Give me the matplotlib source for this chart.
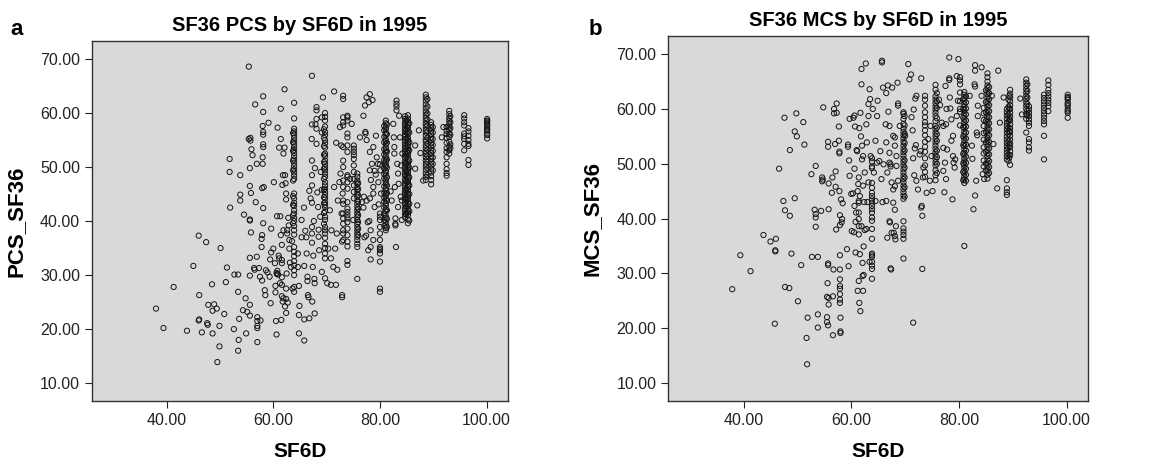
import matplotlib
matplotlib.use("Agg")
import matplotlib.pyplot as plt
import numpy as np

# ---- panel a: PCS_SF36 vs SF6D (scattered points, x/y pairs) ----
pcs_pts = [
    (38.0, 23.8), (39.4, 20.2), (41.3, 27.8), (43.8, 19.7), (45.0, 31.7), (46.0, 37.3),
    (46.1, 26.3), (46.1, 21.8), (46.0, 21.6), (46.6, 19.4), (47.4, 36.1), (47.6, 21.1),
    (47.7, 20.8), (47.8, 24.5), (48.5, 28.3), (48.6, 23.4), (48.6, 19.2), (48.9, 24.6),
    (49.4, 23.8), (49.5, 13.9), (49.9, 16.8), (49.9, 20.6), (50.1, 35.0), (50.8, 22.8),
    (51.1, 28.7), (51.3, 31.4), (51.8, 49.1), (51.8, 51.5), (51.9, 42.5), (52.6, 20.0),
    (52.7, 30.1), (53.4, 30.1), (53.4, 26.9), (53.4, 16.0), (53.5, 18.0), (53.6, 21.9),
    (53.8, 48.5), (53.8, 44.9), (53.8, 43.8), (54.3, 23.5), (54.5, 41.2), (54.8, 25.7),
    (54.9, 19.2), (55.1, 23.2), (55.4, 55.2), (55.4, 68.6), (55.6, 49.8), (55.6, 46.5),
    (55.6, 40.3), (55.6, 40.1), (55.6, 33.2), (55.6, 29.9), (55.6, 24.5), (55.6, 22.5),
    (55.7, 55.4), (55.7, 54.9), (55.8, 45.2), (55.8, 37.9), (55.9, 53.3), (56.1, 52.2),
    (56.4, 31.3), (56.5, 31.0), (56.7, 43.5), (56.6, 61.6), (56.9, 50.6), (56.9, 33.4),
    (57.0, 22.2), (57.0, 21.5), (57.0, 20.6), (57.0, 20.2), (57.0, 17.6), (57.3, 31.3),
    (57.5, 29.7), (57.6, 21.6), (57.8, 36.7), (57.8, 35.2), (57.9, 29.0), (57.9, 37.4),
    (57.9, 46.1), (58.0, 57.6), (58.0, 51.8), (58.0, 50.6), (58.1, 56.5), (58.1, 56.0),
    (58.1, 63.1), (58.1, 60.2), (58.1, 54.2), (58.1, 53.7), (58.1, 42.4), (58.1, 39.6),
    (58.2, 46.3), (58.4, 27.2), (58.5, 26.3), (58.6, 30.9), (58.9, 30.5), (59.1, 58.2),
    (59.3, 29.7), (59.4, 32.9), (59.5, 24.8), (59.6, 38.6), (59.6, 34.2), (60.0, 34.9),
    (60.1, 47.2), (60.4, 26.8), (60.4, 28.0), (60.5, 21.5), (60.6, 19.0), (60.6, 30.4),
    (60.7, 30.2), (60.7, 40.9), (60.8, 57.3), (61.0, 33.6), (61.1, 53.6), (61.3, 40.9),
    (61.4, 60.8), (61.4, 55.2), (61.5, 21.7), (61.6, 35.6), (61.6, 32.8), (61.6, 32.2),
    (61.6, 29.6), (61.6, 28.2), (61.6, 26.1), (61.7, 46.7), (61.8, 48.5), (61.9, 52.5),
    (62.1, 53.6), (62.1, 64.4), (62.2, 48.5), (62.3, 47.0), (62.4, 44.0), (62.4, 45.1),
    (62.4, 27.5), (62.4, 25.6), (62.7, 24.9), (62.8, 40.6), (63.0, 36.5), (63.1, 32.3),
    (60.3, 32.2), (60.9, 30.1), (61.25, 28.5), (61.75, 25.1), (61.9, 25.7), (62.2, 24.2),
    (62.4, 23.0), (62.5, 30.3), (62.6, 37.7), (62.6, 38.3), (62.9, 39.2), (63.0, 34.9),
    (61.9, 38.3), (61.4, 37.4), (61.1, 33.1), (60.75, 30.8),
    (63.5, 36.3), (63.3, 31.5), (63.6, 27.5), (64.6, 34.0), (64.6, 31.5), (64.8, 28.0),
    (64.9, 24.3), (64.8, 22.6), (64.8, 19.2), (65.3, 40.2), (65.3, 37.0), (65.75, 42.5),
    (65.8, 31.7), (65.8, 21.8), (65.8, 17.9), (66.0, 38.2), (66.2, 37.0), (66.25, 34.0),
    (66.4, 29.7), (66.4, 28.9), (66.5, 26.3), (66.6, 25.9), (66.75, 45.6), (66.75, 22.0),
    (67.0, 44.2), (67.2, 55.2), (67.25, 66.9), (67.25, 57.9), (67.25, 51.2), (67.25, 48.5),
    (67.25, 46.6), (67.25, 43.4), (67.25, 38.9), (67.25, 37.7), (67.25, 36.0), (67.3, 25.1),
    (67.4, 31.5), (67.5, 33.6), (67.6, 40.0), (67.7, 29.3), (67.75, 28.5), (67.75, 22.9),
    (67.8, 49.8), (67.9, 57.9), (68.1, 61.1), (68.1, 60.5), (68.1, 58.9), (68.1, 57.1),
    (68.1, 54.3), (68.25, 45.3), (68.4, 42.6), (68.5, 38.4), (68.5, 37.1), (68.6, 34.6),
    (68.8, 40.8), (68.9, 49.1), (69.1, 45.8), (69.1, 30.6), (69.3, 62.9), (69.1, 59.2),
    (69.1, 56.4),
    (70.1, 28.5), (70.3, 34.9), (70.6, 42.0), (70.8, 28.2), (70.8, 33.1), (70.9, 38.3),
    (71.25, 31.5), (71.4, 64.0), (71.4, 46.3), (71.6, 34.9), (71.75, 28.2), (71.8, 54.5),
    (71.9, 37.7), (72.0, 31.0), (72.1, 43.8), (72.4, 47.2), (72.5, 57.4), (72.6, 48.8),
    (72.75, 54.0), (72.8, 41.4), (72.9, 26.3), (72.9, 25.9), (72.9, 36.2), (73.0, 45.1),
    (74.4, 47.8), (74.7, 58.0), (75.0, 40.2), (76.25, 55.5), (76.6, 43.5), (76.9, 59.5),
    (77.2, 61.4), (77.25, 56.5), (77.3, 56.2), (77.4, 37.3), (77.5, 62.9), (77.5, 55.0),
    (77.5, 43.8), (77.7, 39.8), (77.8, 34.6), (77.9, 62.0), (78.1, 63.5), (78.1, 52.8),
    (78.1, 49.4), (78.1, 44.2), (78.25, 38.3), (78.25, 35.2), (78.25, 32.9), (78.6, 62.4),
    (78.75, 53.7), (78.75, 46.3), (78.75, 45.1), (78.75, 36.5), (79.0, 42.6), (79.25, 55.8),
    (79.4, 51.8), (79.6, 50.6), (79.7, 47.2), (79.75, 43.1), (79.0, 49.3), (79.2, 48.6),
    (78.5, 50.6), (78.3, 47.6), (77.0, 44.5), (76.9, 42.5), (77.1, 37.0), (78.0, 40.0),
    (80.2, 45.1), (80.1, 49.4), (80.0, 50.5),
    (82.5, 58.0), (82.6, 55.5), (82.7, 53.7), (82.7, 52.5), (82.8, 46.3), (82.9, 40.5),
    (82.9, 39.5), (82.9, 39.2), (83.0, 35.2), (83.25, 50.6), (83.4, 48.8), (83.4, 42.6),
    (83.6, 59.5), (83.75, 55.5), (83.9, 44.5), (84.1, 43.8), (84.1, 40.2), (82.2, 43.8),
    (82.0, 45.5), (83.5, 46.9), (84.0, 50.3), (84.2, 52.5),
    (86.6, 54.0), (86.6, 49.7), (87.0, 42.9), (87.3, 56.8), (87.6, 52.6), (88.1, 47.5),
    (91.6, 55.5), (91.9, 57.4),
]

# vertical stacks of points sharing one SF6D value
pcs_cols = {
    63.9: [61.9, 59.0, 57.1, 56.6, 56.0, 55.4, 54.9, 54.3, 53.7, 53.2, 52.6, 52.0, 51.4,
           50.8, 50.2, 49.6, 49.0, 48.4, 47.8, 45.1, 44.2, 43.4, 42.8, 42.0, 41.4, 40.6,
           40.0, 39.1, 38.3, 37.5, 35.2, 34.3, 33.5, 32.6, 31.8, 30.9, 30.0, 27.8, 26.9],
    63.7: [56.3, 54.6, 53.0, 51.2, 49.4, 47.5, 44.6, 43.0, 41.1, 39.6],
    69.7: [60.0, 59.3, 58.6, 57.5, 56.5, 55.9, 55.0, 54.4, 53.6, 52.5, 52.0, 51.2, 50.6,
           50.0, 49.4, 48.8, 48.2, 47.2, 46.6, 46.0, 45.4, 44.8, 44.2, 43.5, 43.0, 42.6,
           41.8, 40.8, 40.2, 38.9, 38.3, 37.7, 36.9, 35.8, 35.0, 34.0, 33.1, 29.4],
    69.5: [57.0, 55.4, 53.9, 52.3, 50.9, 49.7, 47.8, 45.8, 44.4, 43.3, 41.5, 39.5],
    73.1: [63.2, 62.6, 59.2, 58.3, 57.7, 53.7, 51.2, 50.0, 47.5, 46.3, 43.8, 43.2, 41.4,
           40.5, 39.5, 38.3, 37.7, 36.5],
    73.9: [59.5, 59.2, 58.6, 56.2, 55.5, 54.0, 52.8, 48.5, 48.2, 47.2, 46.0, 43.5, 42.3,
           41.7, 41.1, 40.5, 39.8, 38.6, 37.4, 36.2, 35.3, 32.6, 31.9],
    75.1: [54.0, 53.4, 52.8, 52.2, 51.5, 50.3, 49.1, 47.8, 46.6, 45.4, 44.2],
    75.75: [48.8, 48.2, 47.5, 46.9, 46.3, 45.7, 45.1, 44.5, 43.8, 43.2, 42.6, 42.0, 41.4,
            40.8, 40.2, 39.5, 38.9, 38.3, 37.7, 37.1, 36.5, 35.8, 35.2, 29.3],
    75.9: [47.0, 45.9, 44.8, 43.6, 42.3, 41.1, 39.8, 38.6, 37.4],
    80.0: [41.4, 40.8, 40.2, 38.9, 37.7, 36.5, 35.2, 34.9, 34.6, 34.0, 32.5, 27.5, 26.9],
    81.1: [58.6, 58.1, 57.4, 57.0, 56.3, 55.9, 55.1, 54.8, 54.2, 53.6, 53.1, 52.7, 52.0,
           51.6, 51.0, 50.4, 50.1, 49.3, 48.9, 48.4, 47.7, 47.2, 46.8, 46.1, 45.7, 45.0,
           44.6, 44.0, 43.3, 42.9, 42.2, 41.8, 41.0, 40.6, 39.9, 39.3, 38.7, 38.3],
    80.8: [57.6, 56.8, 55.6, 54.6, 53.3, 52.3, 51.3, 50.7, 49.7, 48.7, 47.9, 46.4, 45.3,
           44.3, 43.6, 42.5, 41.4, 40.2, 39.1],
    81.3: [57.9, 56.1, 54.5, 52.9, 51.4, 49.9, 48.1, 46.6, 45.2, 43.8, 42.0, 40.4, 38.9],
    83.1: [62.3, 61.7, 61.2, 60.5],
    84.7: [59.4, 58.9, 58.2, 57.7, 57.1, 56.6, 56.0, 55.6, 55.0, 54.4, 53.9, 53.3, 52.8,
           52.1, 51.7, 51.0, 50.5, 49.9, 49.4, 48.7, 48.3, 47.6, 47.0, 46.5, 45.9, 45.3,
           44.8, 44.2, 43.6, 43.1, 42.4, 41.9, 41.3, 40.7],
    84.9: [58.5, 56.9, 55.3, 53.6, 52.4, 50.8, 49.1, 47.4, 45.6, 44.1, 42.7, 41.2],
    85.0: [58.7, 57.5, 56.4, 55.2, 54.1, 53.0, 51.9, 50.7, 49.5, 48.3, 47.2, 46.0, 44.9,
           43.8, 42.6, 41.5],
    85.25: [59.6, 59.0, 58.4, 57.8, 57.3, 56.7, 56.1, 55.4, 54.9, 54.3, 53.8, 53.2, 52.6,
            52.1, 51.5, 50.9, 50.3, 49.7, 49.2, 48.6, 48.0, 47.4, 46.9, 46.3, 45.7, 45.1,
            44.5, 44.0, 43.4, 42.8, 42.2, 41.6, 41.1, 40.3, 39.6],
    85.5: [58.1, 56.4, 54.6, 53.1, 51.2, 49.9, 48.1, 46.6, 45.0, 43.2, 41.8, 40.1],
    88.6: [63.4, 62.9, 62.3, 61.6, 60.9, 60.3, 59.7, 59.1, 58.6, 58.0, 57.5, 56.9, 56.4,
           55.8, 55.1, 54.7, 54.0, 53.5, 52.9, 52.4, 51.8, 51.2, 50.6, 50.1, 49.5, 48.8,
           48.2, 47.6],
    88.9: [62.6, 61.2, 59.9, 58.8, 57.7, 56.6, 55.4, 54.3, 53.2, 52.1, 51.0, 49.8, 48.5],
    89.6: [58.3, 57.8, 57.2, 56.7, 56.1, 55.5, 55.0, 54.4, 53.8, 53.2, 52.6, 52.0, 51.5,
           50.9, 50.3, 49.7, 49.0, 48.3, 47.6, 46.8],
    89.9: [57.4, 56.4, 55.2, 54.1, 53.0, 51.8, 50.6, 49.4],
    92.5: [57.4, 56.7, 56.1, 55.4, 54.5, 53.5, 52.8, 51.8, 50.6, 49.6, 48.9, 48.4],
    93.0: [60.4, 59.8, 59.1, 58.6, 58.0, 57.5, 56.9, 56.2, 55.6, 54.7, 53.8, 53.1, 52.5],
    93.2: [59.4, 58.3, 57.2, 56.0, 54.2, 53.5],
    95.8: [59.6, 59.0, 58.3, 57.7, 56.2, 55.7, 55.2, 54.3, 53.1],
    96.6: [57.2, 56.6, 55.8, 55.0, 54.3, 53.9, 51.3, 50.4],
    100.1: [58.9, 58.6, 58.2, 57.9, 57.5, 57.1, 56.6, 56.2, 55.9, 55.3, 58.4, 57.7, 56.9],
}

# ---- panel b: MCS_SF36 vs SF6D ----
mcs_pts = [
    (37.9, 27.1), (39.4, 33.3), (41.3, 30.4), (43.7, 37.0), (45.0, 35.8), (45.8, 20.8),
    (45.9, 34.2), (45.9, 34.0), (46.0, 36.3), (46.6, 49.1), (47.6, 58.4), (47.4, 43.2),
    (47.7, 41.5), (47.7, 27.5), (48.5, 27.3), (48.6, 40.5), (48.6, 52.5), (48.9, 33.6),
    (49.5, 55.9), (49.5, 43.7), (49.8, 59.2), (49.9, 55.0), (50.1, 24.9), (50.7, 31.5),
    (51.1, 57.6), (51.3, 53.5), (51.7, 18.2), (51.9, 21.9), (51.8, 13.4), (52.6, 48.1),
    (52.7, 33.0), (53.2, 41.6), (53.4, 40.8), (53.4, 40.2), (53.4, 38.5), (53.4, 49.6),
    (53.8, 33.0), (53.8, 22.5), (53.8, 20.1), (54.4, 41.4), (54.6, 47.5), (54.7, 47.1),
    (54.6, 46.8), (54.8, 60.3), (55.5, 22.0), (55.5, 21.1), (55.5, 25.7), (55.8, 25.5),
    (55.6, 28.2), (55.7, 20.5), (55.7, 31.8), (55.7, 31.5), (55.7, 54.0), (55.7, 53.1),
    (55.8, 46.4), (55.8, 41.7), (55.8, 24.3), (56.4, 44.7), (56.5, 47.5), (56.6, 25.8),
    (56.6, 18.7), (56.7, 30.7), (56.8, 60.0), (56.8, 59.2), (57.0, 53.6), (57.1, 48.6),
    (57.1, 45.8), (57.2, 38.0), (57.3, 61.0), (57.3, 59.3), (57.7, 54.2), (57.7, 56.8),
    (57.8, 45.0), (58.1, 43.5), (58.4, 42.8), (57.8, 52.2), (57.8, 51.9), (57.9, 40.6),
    (57.9, 38.8), (57.9, 33.3), (57.9, 30.7), (57.9, 28.9), (57.9, 27.7), (57.9, 27.2),
    (57.9, 26.2), (57.9, 25.2), (57.9, 24.6), (58.0, 21.9), (58.0, 19.4), (58.0, 19.1),
    (58.3, 39.9), (58.2, 39.3), (59.2, 34.4), (59.5, 31.3), (59.4, 53.5), (59.4, 53.1),
    (59.6, 50.6), (59.7, 58.2), (59.7, 47.8), (60.0, 44.5), (60.3, 44.6), (60.1, 37.7),
    (60.4, 58.4), (60.6, 58.8), (60.5, 37.5), (60.6, 49.1), (60.7, 56.8), (60.8, 39.4),
    (60.8, 33.8), (61.0, 52.5), (61.1, 52.3), (61.2, 26.8), (61.4, 28.6), (61.5, 24.6),
    (61.7, 23.1), (61.3, 46.3), (61.4, 47.5), (61.4, 43.2), (61.4, 42.9), (61.4, 41.1),
    (61.4, 39.9), (61.4, 38.6), (61.4, 37.1), (61.5, 56.5), (61.6, 33.5), (61.7, 59.3),
    (61.8, 55.0), (61.9, 67.3), (61.9, 64.5), (62.0, 53.3), (62.0, 50.8), (62.2, 51.4),
    (62.1, 31.9), (62.1, 29.5), (62.3, 29.7), (62.2, 26.8), (62.3, 34.9), (62.4, 43.0),
    (62.5, 37.9), (62.5, 48.4), (62.7, 68.3), (62.8, 57.2), (62.9, 53.9), (63.2, 58.7),
    (63.2, 60.9), (63.4, 63.6), (63.4, 32.1), (63.5, 61.8), (63.6, 51.4),
    (60.6, 42.3), (60.9, 41.1), (61.2, 45.0), (61.6, 44.1), (61.9, 38.6), (62.8, 38.1),
    (63.0, 43.0), (63.2, 46.6), (62.2, 46.0),
    (64.0, 60.0), (64.2, 48.4), (64.5, 54.2), (64.5, 43.2), (64.8, 58.7), (64.8, 50.2),
    (64.9, 61.5), (65.2, 50.5), (65.4, 52.3), (65.6, 47.2), (65.7, 68.8), (65.7, 68.5),
    (65.8, 43.0), (65.9, 63.9), (66.0, 49.9), (66.4, 57.2), (66.5, 53.9), (66.5, 43.2),
    (66.5, 62.9), (66.7, 48.4), (66.7, 36.5), (66.8, 64.3), (66.9, 59.5), (67.1, 52.0),
    (67.1, 50.2), (67.3, 49.9), (67.3, 49.5), (67.1, 39.5), (67.2, 39.3), (67.3, 30.9),
    (67.4, 30.7), (67.5, 46.6), (67.6, 63.9), (67.8, 42.9), (67.9, 37.4), (68.1, 36.8),
    (68.2, 36.2), (68.1, 54.8), (68.1, 41.6), (68.3, 38.6), (68.6, 64.8), (68.7, 61.0),
    (68.7, 60.6), (68.7, 46.9), (69.0, 56.9), (67.1, 56.9), (67.8, 55.1), (68.1, 53.3),
    (68.4, 51.4), (68.4, 49.6), (67.8, 45.3), (68.1, 45.9), (67.5, 37.4),
    (70.0, 55.1), (70.6, 68.2), (70.8, 65.4), (71.1, 66.3), (71.2, 58.5), (71.4, 56.1),
    (71.5, 51.0), (71.5, 21.0), (71.6, 59.9), (71.7, 47.9), (71.8, 52.8), (72.0, 53.4),
    (71.9, 61.9), (72.1, 62.4), (72.1, 46.9), (72.4, 45.3), (72.7, 51.7), (72.9, 52.3),
    (73.0, 65.6), (73.1, 42.3), (73.2, 40.5), (73.2, 30.8), (73.0, 42.0), (73.3, 47.5),
    (73.4, 49.3), (74.0, 44.7), (74.3, 54.5), (74.6, 46.9), (74.7, 56.9), (74.9, 51.4),
    (75.1, 45.0),
    (76.3, 61.7), (76.5, 60.7), (76.8, 57.5), (77.1, 52.9), (77.1, 48.7), (77.3, 44.8),
    (77.5, 64.2), (77.6, 57.2), (77.6, 47.2), (77.8, 52.6), (78.2, 65.6), (78.2, 65.3),
    (78.2, 69.4), (78.4, 60.1), (78.6, 58.1), (78.8, 43.5), (78.9, 55.1), (79.0, 50.2),
    (79.2, 49.3), (79.6, 66.0), (79.8, 61.5), (79.9, 69.1), (80.2, 57.0), (80.2, 60.0),
    (77.1, 56.9), (77.7, 60.0), (78.3, 62.1), (78.9, 51.4), (79.3, 50.8), (79.6, 58.7),
    (78.6, 54.2), (77.4, 50.2),
    (82.0, 62.4), (82.4, 53.3), (82.5, 50.9), (82.7, 41.7), (82.9, 64.5), (83.0, 64.1),
    (83.0, 67.0), (83.0, 68.0), (83.0, 44.2), (83.2, 46.9), (83.3, 55.7), (83.4, 55.2),
    (83.5, 60.6), (83.5, 58.7), (84.2, 67.6), (84.2, 62.4), (84.4, 48.1), (84.7, 47.2),
    (86.1, 62.4), (86.4, 53.6), (87.1, 45.5), (87.3, 67.0), (87.6, 57.5), (88.3, 62.1),
    (91.4, 61.9), (91.7, 59.0), (95.8, 50.8), (95.8, 55.1),
]

mcs_cols = {
    63.85: [51.0, 50.4, 49.5, 49.2, 46.5, 45.6, 44.7, 44.1, 43.5, 42.9, 42.3, 41.7, 41.1,
            40.2, 39.6, 38.1, 36.3, 33.6, 33.3, 33.0, 32.1, 31.4, 30.8, 29.0],
    69.7: [59.4, 59.1, 58.2, 57.3, 56.4, 55.8, 55.2, 54.6, 54.0, 53.3, 52.7, 52.1, 51.5,
           50.9, 50.3, 49.7, 49.0, 48.4, 47.8, 47.2, 46.6, 46.0, 45.4, 44.8, 44.2, 43.6,
           39.5, 38.2, 37.6, 37.0, 36.3, 32.7],
    69.9: [58.7, 57.0, 55.5, 53.8, 52.4, 50.6, 49.3, 47.5, 45.7, 44.0],
    73.7: [62.4, 61.7, 60.6, 59.4, 58.5, 57.6, 57.0, 56.1, 55.2, 54.0, 53.1, 52.2, 51.0,
           49.7, 48.5, 47.6],
    75.65: [64.4, 63.5, 62.3, 61.7, 61.1, 60.5, 59.9, 59.3, 58.7, 57.8, 56.9, 56.3, 55.7,
            55.1, 54.5, 53.9, 53.3, 52.7, 52.1, 51.5, 50.9, 50.3, 49.7, 48.8, 47.9, 47.0],
    75.9: [62.9, 61.4, 60.2, 58.3, 56.6, 55.4, 54.2, 52.4, 51.2, 50.0, 48.3],
    80.2: [65.8, 65.2, 64.5, 63.0, 61.4, 59.5],
    80.8: [61.8, 60.0, 58.4, 56.7, 55.0, 53.4, 51.8, 50.1, 48.5, 47.0],
    81.0: [63.1, 62.6, 62.0, 61.5, 60.9, 60.4, 59.8, 59.3, 58.7, 58.1, 57.6, 57.0, 56.5,
           55.9, 55.4, 54.8, 54.3, 53.7, 53.2, 52.6, 52.0, 51.5, 50.9, 50.4, 49.8, 49.3,
           48.7, 48.2, 47.6, 47.1, 46.5, 35.0],
    81.3: [62.3, 61.2, 60.1, 59.0, 57.9, 56.8, 55.7, 54.6, 53.5, 52.4, 51.3, 50.2, 49.1,
           48.0, 46.9],
    84.6: [60.2, 59.2, 58.0, 56.9, 55.6, 54.4, 53.0, 51.9, 50.6, 49.5],
    85.0: [63.4, 61.3, 59.4, 57.8, 55.8, 53.9, 52.2, 50.0, 48.8],
    85.3: [66.5, 65.8, 65.0, 64.3, 63.8, 63.2, 62.7, 62.1, 61.5, 61.0, 60.4, 59.8, 59.2,
           58.7, 58.1, 57.6, 57.0, 56.4, 55.9, 55.3, 54.7, 54.2, 53.6, 53.1, 52.5, 51.9,
           51.4, 50.8, 50.2, 49.7, 49.1, 48.6, 48.0, 47.3],
    85.6: [64.0, 62.9, 61.8, 60.7, 59.6, 58.5, 57.4, 56.3, 55.2, 54.0, 52.8, 51.7, 50.5,
           49.4, 48.3],
    88.9: [60.0, 59.4, 58.8, 58.2, 57.5, 56.9, 56.3, 55.7, 55.0, 54.4, 53.8, 53.2, 52.6,
           52.0, 51.4, 50.8, 47.0, 45.5, 44.8, 44.3],
    89.2: [61.7, 60.4, 59.0, 57.7, 56.6, 55.4, 54.1, 52.9, 51.7, 50.5],
    89.35: [62.4, 60.1, 58.2, 56.0, 53.5, 51.1],
    89.5: [63.5, 62.8, 62.1, 61.4, 60.7, 60.0, 59.3, 58.6, 57.9, 57.2, 56.5, 55.8, 55.1,
           54.4, 53.7, 53.0, 52.3, 51.6, 49.8],
    92.5: [65.4, 64.8, 64.2, 63.6, 63.0, 62.4, 61.8, 61.2, 60.6, 60.0, 59.1, 58.2, 55.7],
    92.7: [64.5, 63.3, 62.1, 60.9, 59.7, 58.8],
    93.0: [60.5, 59.9, 59.3, 58.7, 58.1, 57.5, 56.9, 54.5, 53.9, 53.0, 52.4],
    95.8: [62.6, 62.0, 61.4, 60.8, 60.2, 59.6, 59.0, 58.4, 57.8, 57.2],
    96.6: [65.2, 64.4, 63.5, 62.9, 62.3, 61.7, 61.1, 60.5, 59.6],
    100.2: [62.6, 62.2, 61.7, 61.1, 60.5, 59.9, 59.3, 58.4, 62.0, 60.8, 59.6],
}

x_ticks = [40, 60, 80, 100]
y_ticks = [10, 20, 30, 40, 50, 60, 70]

plt.rcParams['font.family'] = ['Liberation Sans', 'DejaVu Sans']


def collect(pts, cols):
    xs = [p[0] for p in pts]
    ys = [p[1] for p in pts]
    for cx, cy in cols.items():
        xs += [cx] * len(cy)
        ys += cy
    return np.array(xs), np.array(ys)


fig = plt.figure(figsize=(11.52, 4.63), dpi=100)
ax_a = fig.add_axes([0.0799, 0.134, 0.361, 0.777])
ax_b = fig.add_axes([0.580, 0.134, 0.3646, 0.788])

panels = [
    (ax_a, pcs_pts, pcs_cols, 'SF36 PCS by SF6D in 1995', 'PCS_SF36'),
    (ax_b, mcs_pts, mcs_cols, 'SF36 MCS by SF6D in 1995', 'MCS_SF36'),
]

for ax, pts, cols, title, ylab in panels:
    x, y = collect(pts, cols)
    ax.set_facecolor('#d9d9d9')
    ax.scatter(x, y, s=14, facecolors='none', edgecolors='#151515', linewidths=0.7)
    ax.set_xlim(26, 104)
    ax.set_ylim(6.7, 73.3)
    ax.set_xticks(x_ticks)
    ax.set_yticks(y_ticks)
    ax.set_xticklabels(['%.2f' % v for v in x_ticks])
    ax.set_yticklabels(['%.2f' % v for v in y_ticks])
    ax.tick_params(direction='out', length=5, width=0.8, labelsize=11.5,
                   colors='#222222', top=False, right=False)
    for sp in ax.spines.values():
        sp.set_color('#333333')
        sp.set_linewidth(1.0)
    ax.set_title(title, fontsize=14.5, fontweight='bold', pad=7)
    ax.set_xlabel('SF6D', fontsize=15, fontweight='bold', labelpad=10)
    ax.set_ylabel(ylab, fontsize=16, fontweight='bold', labelpad=10)

fig.text(0.009, 0.937, 'a', fontsize=16, fontweight='bold', va='center')
fig.text(0.511, 0.937, 'b', fontsize=16, fontweight='bold', va='center')

fig.savefig('out.png', dpi=100, facecolor='white')
